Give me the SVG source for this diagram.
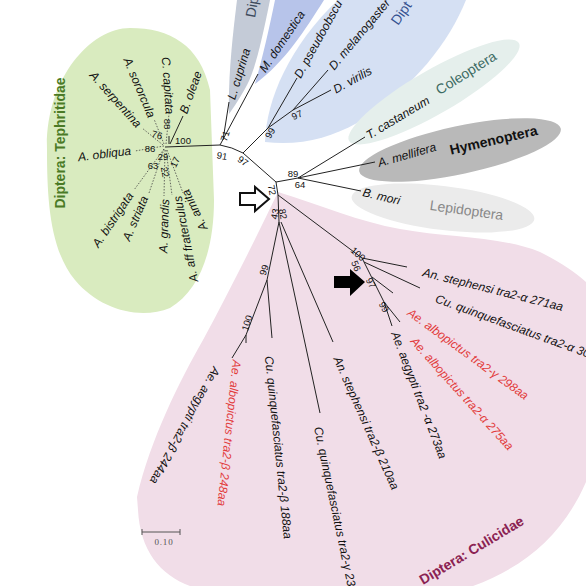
<svg xmlns="http://www.w3.org/2000/svg" width="586" height="586" viewBox="0 0 586 586">
<style>
.sp{font-family:"Liberation Sans",Arial,sans-serif;font-size:12px;font-style:italic;fill:#111}
.red{fill:#e23b3b}
.bs{font-family:"Liberation Sans",Arial,sans-serif;font-size:9.5px;fill:#111;text-anchor:middle}
.br{stroke:#222;stroke-width:1;fill:none}
.dash{stroke:#444;stroke-width:0.8;stroke-dasharray:1.5 1.5;fill:none}
.grp{font-family:"Liberation Sans",Arial,sans-serif;font-size:14px}
</style>
<rect width="586" height="586" fill="#ffffff"/>
<g id="regions">
<path id="tephritidae-bg" d="M47,150 C45,80 90,28 130,28 C170,28 200,45 210,90 L214,200 C214,250 200,290 170,308 C140,320 100,310 75,280 C50,250 47,200 47,150 Z" fill="#d9ebbf"/>
<path id="culicidae-bg" d="M278,192 C320,205 360,222 400,229 C450,238 500,236 540,252 C560,262 575,272 586,282 L586,482 C565,530 530,565 473,586 L190,586 C160,575 140,550 138,510 L137,497 C150,440 180,380 203,340 C230,290 255,240 278,192 Z" fill="#f1dde8"/>
<path id="dip-gray-bg" d="M229,114 C228,80 232,40 237,0 L270,0 C262,40 255,70 247,85 C240,98 234,107 229,114 Z" fill="#c4cbd7"/>
<path id="muscidae-bg" d="M255,84 C262,60 270,25 275,0 L324,0 C305,30 285,62 255,84 Z" fill="#b7c4ea"/>
<path id="drosophila-bg" d="M265,142 C266,100 290,45 338,0 L466,0 C450,40 415,88 357,123 C330,138 300,146 265,142 Z" fill="#d5e0f3"/>
<ellipse id="coleoptera-bg" cx="434" cy="92" rx="98" ry="22" transform="rotate(-30 434 92)" fill="#e5efec"/>
<ellipse id="hymenoptera-bg" cx="460" cy="150" rx="103" ry="24" transform="rotate(-12 460 150)" fill="#b9b9b9"/>
<ellipse id="lepidoptera-bg" cx="443" cy="208" rx="92" ry="22" transform="rotate(7 443 208)" fill="#ebebeb"/>
</g>
<g id="connectors">
<path class="br" d="M165,147 L220,145"/>
<path class="br" d="M170,144 L183,116"/>
<path class="br" d="M169,144 L169,136"/>
<path class="dash" d="M164,146 L135,151 M163,145 L142,128 M164,144 L154,119 M166,144 L169,114 M164,149 L134,190 M164,149 L149,193 M165,150 L164,196 M166,150 L172,195 M167,150 L183,193"/>
<path class="br" d="M220,145 L258,74 M223,140 L229,102"/>
<path class="br" d="M220,145 Q232,147 243,153 L276,182"/>
<path class="br" d="M243,153 L268,128 L297,78 M268,128 L293,110 L328,70 M293,110 L331,90"/>
<path class="br" d="M276,182 L298,178 L365,137 M298,178 L375,162 M298,178 L361,191"/>
<path class="br" d="M276,182 L278,195 L279,222"/>
<path class="br" d="M278,195 L362,258 L407,267 M364,262 L420,288 M362,258 L384,302 M372,277 L393,293 M384,302 L400,322 M384,302 L392,326"/>
<path class="br" d="M279,222 L267,280 L272,338 M267,280 L246,335 L232,358 M246,335 L246,343"/>
<path class="br" d="M279,222 L320,413 M281,222 L333,342"/>
<path d="M142,532 L180,532 M142,529 L142,535 M180,529 L180,535" stroke="#555" stroke-width="1" fill="none"/>
</g>
<g id="arrows">
<polygon id="white-arrow" points="240,193 255,193 255,187 269,199 255,211 255,205 240,205" fill="#fff" stroke="#111" stroke-width="2"/>
<polygon id="black-arrow" points="334,276 350,276 350,269 365,282 350,296 350,288 334,288" fill="#000"/>
</g>
<g id="group-labels">
<text class="grp" transform="translate(65,143) rotate(-90)" text-anchor="middle" font-size="12" font-weight="bold" fill="#4a7a25">Diptera: Tephritidae</text>
<text class="grp" transform="translate(423,585) rotate(-31)" font-size="12" font-weight="bold" fill="#8b2252">Diptera: Culicidae</text>
<text class="grp" transform="translate(255,18) rotate(-80)" fill="#3d4a5c">Dip</text>
<text class="grp" transform="translate(398,26) rotate(-55)" fill="#33508f">Dipt</text>
<text class="grp" transform="translate(437,91) rotate(-32)" dy=".35em" fill="#3d6b63">Coleoptera</text>
<text class="grp" transform="translate(450,150) rotate(-13)" dy=".35em" font-weight="bold" fill="#111">Hymenoptera</text>
<text class="grp" transform="translate(430,205) rotate(8)" dy=".35em" fill="#888">Lepidoptera</text>
</g>
<g id="taxa">
<g id="n-obliqua"><text class="sp" transform="translate(78,157) rotate(-7)" dy=".35em">A. obliqua</text></g>
<g id="n-serpentina"><text class="sp" transform="translate(92,73) rotate(48)" dy=".35em">A. serpentina</text></g>
<g id="n-sororcula"><text class="sp" transform="translate(127,58) rotate(67)" dy=".35em">A. sororcula</text></g>
<g id="n-capitata"><text class="sp" transform="translate(166,57) rotate(86)" dy=".35em">C. capitata</text></g>
<g id="n-oleae"><text class="sp" transform="translate(183,113) rotate(-70)" dy=".35em">B. oleae</text></g>
<g id="n-bistrigata"><text class="sp" transform="translate(95,246) rotate(-56)" dy=".35em">A. bistrigata</text></g>
<g id="n-striata"><text class="sp" transform="translate(126,240) rotate(-67)" dy=".35em">A. striata</text></g>
<g id="n-grandis"><text class="sp" transform="translate(163,253) rotate(-88)" dy=".35em">A. grandis</text></g>
<g id="n-fraterculus"><text class="sp" transform="translate(194,282) rotate(-101)" dy=".35em">A. aff fraterculus</text></g>
<g id="n-amita"><text class="sp" transform="translate(204,230) rotate(-116)" dy=".35em">A. amita</text></g>
<g id="n-cuprina"><text class="sp" transform="translate(231,99) rotate(-73)" dy=".35em">L. cuprina</text></g>
<g id="n-domestica"><text class="sp" transform="translate(262,71) rotate(-56)" dy=".35em">M. domestica</text></g>
<g id="n-pseudoobscura"><text class="sp" transform="translate(297,77) rotate(-61)" dy=".35em">D. pseudoobscu</text></g>
<g id="n-melanogaster"><text class="sp" transform="translate(331,68) rotate(-50)" dy=".35em">D. melanogaster</text></g>
<g id="n-virilis"><text class="sp" transform="translate(334,90) rotate(-29)" dy=".35em">D. virilis</text></g>
<g id="n-castaneum"><text class="sp" transform="translate(367,136) rotate(-31)" dy=".35em">T. castaneum</text></g>
<g id="n-mellifera"><text class="sp" transform="translate(378,163) rotate(-16)" dy=".35em">A. mellifera</text></g>
<g id="n-mori"><text class="sp" transform="translate(363,192) rotate(13)" dy=".35em">B. mori</text></g>
<g id="n-anst-a"><text class="sp" transform="translate(423,272) rotate(14)" dy=".35em">An. stephensi tra2-α 271aa</text></g>
<g id="n-cuq-a"><text class="sp" transform="translate(436,298) rotate(20)" dy=".35em">Cu. quinquefasciatus tra2-α 30</text></g>
<g id="n-aealb-g"><text class="sp red" transform="translate(409,311) rotate(36)" dy=".35em">Ae. albopictus tra2-γ 298aa</text></g>
<g id="n-aealb-a"><text class="sp red" transform="translate(413,339) rotate(48)" dy=".35em">Ae. albopictus tra2-α 275aa</text></g>
<g id="n-aeaeg-a"><text class="sp" transform="translate(395,332) rotate(69)" dy=".35em">Ae. aegypti tra2 -α 273aa</text></g>
<g id="n-anst-b"><text class="sp" transform="translate(337,357) rotate(66)" dy=".35em">An. stephensi tra2-β 210aa</text></g>
<g id="n-cuq-g"><text class="sp" transform="translate(318,427) rotate(78)" dy=".35em">Cu. quinquefasciatus tra2-γ 23</text></g>
<g id="n-cuq-b"><text class="sp" transform="translate(269,356) rotate(84)" dy=".35em">Cu. quinquefasciatus tra2-β 188aa</text></g>
<g id="n-aealb-b"><text class="sp red" transform="translate(237,360) rotate(96)" dy=".35em">Ae. albopictus tra2-β 248aa</text></g>
<g id="n-aeaeg-b"><text class="sp" transform="translate(217,368) rotate(119)" dy=".35em">Ae. aegypti tra2-β 244aa</text></g>
</g>
<g id="support">
<text class="bs" x="183" y="141" dy=".35em">100</text>
<text class="bs" transform="translate(167,124) rotate(90)" dy=".35em">88</text>
<text class="bs" transform="translate(157,135) rotate(15)" dy=".35em">76</text>
<text class="bs" x="150" y="149" dy=".35em">86</text>
<text class="bs" x="163" y="157" dy=".35em">29</text>
<text class="bs" x="153" y="166" dy=".35em">63</text>
<text class="bs" transform="translate(165,172) rotate(80)" dy=".35em">22</text>
<text class="bs" transform="translate(175,162) rotate(-65)" dy=".35em">17</text>
<text class="bs" transform="translate(222,156) rotate(10)" dy=".35em">91</text>
<text class="bs" transform="translate(225,136) rotate(-72)" dy=".35em">71</text>
<text class="bs" transform="translate(243,161) rotate(35)" dy=".35em">97</text>
<text class="bs" transform="translate(270,133) rotate(-60)" dy=".35em">99</text>
<text class="bs" transform="translate(297,115) rotate(-25)" dy=".35em">97</text>
<text class="bs" x="293" y="174" dy=".35em">89</text>
<text class="bs" x="300" y="185" dy=".35em">64</text>
<text class="bs" transform="translate(272,190) rotate(80)" dy=".35em">72</text>
<text class="bs" transform="translate(275,214) rotate(-80)" dy=".35em">43</text>
<text class="bs" transform="translate(283,214) rotate(80)" dy=".35em">82</text>
<text class="bs" transform="translate(264,270) rotate(-72)" dy=".35em">99</text>
<text class="bs" transform="translate(247,323) rotate(-72)" dy=".35em">100</text>
<text class="bs" transform="translate(358,254) rotate(42)" dy=".35em">100</text>
<text class="bs" transform="translate(356,266) rotate(68)" dy=".35em">56</text>
<text class="bs" transform="translate(371,283) rotate(62)" dy=".35em">97</text>
<text class="bs" transform="translate(384,307) rotate(62)" dy=".35em">99</text>
</g>
<text x="164" y="545" text-anchor="middle" font-family="Liberation Serif,serif" font-size="9" letter-spacing="0.8" fill="#555">0.10</text>
</svg>
